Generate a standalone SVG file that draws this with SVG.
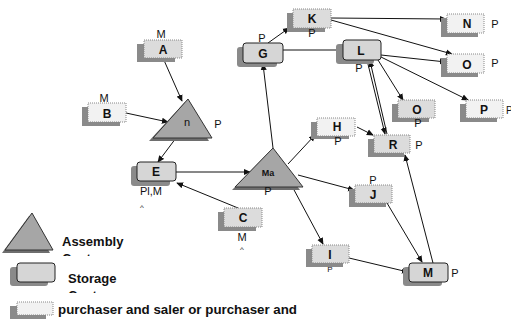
<svg xmlns="http://www.w3.org/2000/svg" width="511" height="326" viewBox="0 0 511 326">
<style>
.sh{fill:#8a8a8a}
.bx{fill:#dcdcdc;stroke:#888;stroke-width:1;stroke-dasharray:1 1}
.bl{fill:#f2f2f2;stroke:#888;stroke-width:1;stroke-dasharray:1 1}
.rb{fill:#d6d6d6;stroke:#222;stroke-width:1}
.tri{fill:#a6a6a6;stroke:#333;stroke-width:1}
.trs{fill:#6e6e6e}
.lb{font-family:"Liberation Sans",Arial,sans-serif;font-weight:bold;font-size:12px;fill:#111;text-anchor:middle}
.sm{font-family:"Liberation Sans",Arial,sans-serif;font-size:11px;fill:#111;text-anchor:middle}
.lg{font-family:"Liberation Sans",Arial,sans-serif;font-weight:bold;font-size:13px;fill:#111}
.cn line{stroke:#111;stroke-width:1;marker-end:url(#ah)}
</style>
<defs>
<marker id="ah" viewBox="0 0 8 8" refX="7" refY="4" markerWidth="7" markerHeight="7" markerUnits="userSpaceOnUse" orient="auto">
<path d="M0,0.5 L8,4 L0,7.5 z" fill="#111"/>
</marker>
<clipPath id="c1"><rect x="0" y="0" width="511" height="256"/></clipPath>
<clipPath id="c2"><rect x="0" y="0" width="511" height="293"/></clipPath>
</defs>

<g id="connectors" class="cn">
<line x1="163" y1="58" x2="182" y2="101"/>
<line x1="126" y1="113" x2="168" y2="122"/>
<line x1="176" y1="138" x2="158" y2="162"/>
<line x1="176" y1="172" x2="250" y2="172"/>
<line x1="238" y1="208" x2="177" y2="183"/>
<line x1="273" y1="148" x2="263" y2="64"/>
<line x1="283" y1="50" x2="342" y2="50"/>
<line x1="268" y1="43" x2="289" y2="28"/>
<line x1="331" y1="18" x2="446" y2="19"/>
<line x1="331" y1="20" x2="452" y2="54"/>
<line x1="381" y1="55" x2="446" y2="62"/>
<line x1="381" y1="57" x2="468" y2="100"/>
<line x1="378" y1="60" x2="403" y2="100"/>
<line x1="367" y1="60" x2="385" y2="134"/>
<line x1="387" y1="134" x2="370" y2="61"/>
<line x1="357" y1="127" x2="373" y2="135"/>
<line x1="288" y1="164" x2="315" y2="135"/>
<line x1="298" y1="175" x2="354" y2="190"/>
<line x1="293" y1="188" x2="323" y2="244"/>
<line x1="349" y1="258" x2="408" y2="272"/>
<line x1="387" y1="203" x2="422" y2="262"/>
<line x1="433" y1="263" x2="405" y2="155"/>
</g>

<g id="A"><rect class="sh" x="137" y="44" width="38" height="18"/><rect class="bx" x="144" y="40" width="38" height="18"/><text class="lb" x="163" y="54">A</text><text class="sm" x="161" y="38">M</text></g>
<g id="B"><rect class="sh" x="82" y="107" width="38" height="19"/><rect class="bl" x="88" y="103" width="38" height="19"/><text class="lb" x="107" y="118">B</text><text class="sm" x="104" y="102">M</text></g>
<g id="D"><polygon class="trs" points="185,102 149,141 209,141"/><polygon class="tri" points="188,99 153,138 212,138"/><text class="sm" x="187" y="126">n</text><text class="sm" x="218" y="128">P</text></g>
<g id="E"><rect class="sh" x="131" y="166" width="39" height="20" rx="3"/><rect class="rb" x="137" y="162" width="39" height="19" rx="3"/><text class="lb" x="156" y="176">E</text><text class="sm" x="151" y="195">Pl,M</text><text class="sm" x="142" y="210" style="font-size:8px">^</text></g>
<g id="C"><rect class="sh" x="218" y="212" width="38" height="19"/><rect class="bx" x="224" y="208" width="38" height="19"/><text class="lb" x="243" y="222">C</text><text class="sm" x="242" y="241">M</text><text class="sm" x="242" y="252" style="font-size:8px">^</text></g>
<g id="Ma"><polygon class="trs" points="270,151 232,190 300,190"/><polygon class="tri" points="273,148 235,187 303,187"/><text class="lb" x="268" y="176" style="font-size:9px">Ma</text><text class="sm" x="268" y="195">P</text></g>
<g id="G"><rect class="sh" x="237" y="47" width="40" height="20" rx="3"/><rect class="rb" x="243" y="43" width="40" height="20" rx="3"/><text class="lb" x="263" y="58">G</text><text class="sm" x="262" y="42">P</text></g>
<g id="K"><rect class="sh" x="287" y="13" width="38" height="19"/><rect class="bx" x="293" y="9" width="38" height="19"/><text class="lb" x="312" y="23">K</text><text class="sm" x="312" y="37">P</text></g>
<g id="L"><rect class="sh" x="336" y="44" width="38" height="20" rx="3"/><rect class="rb" x="343" y="40" width="38" height="20" rx="3"/><text class="lb" x="361" y="55">L</text><text class="sm" x="359" y="72">P</text></g>
<g id="N"><rect class="sh" x="441" y="18" width="37" height="19"/><rect class="bl" x="447" y="14" width="37" height="19"/><text class="lb" x="467" y="28">N</text><text class="sm" x="495" y="28">P</text></g>
<g id="O1"><rect class="sh" x="441" y="58" width="37" height="19"/><rect class="bl" x="447" y="54" width="37" height="19"/><text class="lb" x="467" y="69">O</text><text class="sm" x="495" y="67">P</text></g>
<g id="O2"><rect class="sh" x="392" y="104" width="37" height="18"/><rect class="bx" x="398" y="100" width="37" height="18"/><text class="lb" x="417" y="114">O</text><text class="sm" x="418" y="127">P</text></g>
<g id="P"><rect class="sh" x="460" y="104" width="37" height="18"/><rect class="bl" x="466" y="100" width="37" height="18"/><text class="lb" x="484" y="114">P</text><text class="sm" x="506" y="114" style="text-anchor:start;font-size:10px">P</text></g>
<g id="H"><rect class="sh" x="311" y="122" width="38" height="17"/><rect class="bl" x="317" y="118" width="38" height="18"/><text class="lb" x="337" y="131">H</text><text class="sm" x="338" y="145">P</text></g>
<g id="R"><rect class="sh" x="368" y="139" width="36" height="18"/><rect class="bx" x="374" y="135" width="36" height="18"/><text class="lb" x="393" y="149">R</text><text class="sm" x="419" y="149">P</text></g>
<g id="J"><rect class="sh" x="349" y="189" width="37" height="18"/><rect class="bx" x="355" y="185" width="37" height="18"/><text class="lb" x="373" y="199">J</text><text class="sm" x="373" y="184">P</text></g>
<g id="I"><rect class="sh" x="306" y="249" width="37" height="18"/><rect class="bx" x="312" y="245" width="37" height="18"/><text class="lb" x="330" y="259">I</text><text class="sm" x="330" y="272" style="font-size:8px">P</text></g>
<g id="M"><rect class="sh" x="403" y="267" width="39" height="19" rx="3"/><rect class="rb" x="409" y="263" width="39" height="19" rx="3"/><text class="lb" x="428" y="277">M</text><text class="sm" x="455" y="277">P</text></g>

<g id="legend">
<polygon class="trs" points="29,216 2,253 50,253"/>
<polygon class="tri" points="32,213 5,250 53,250"/>
<text class="lg" x="62" y="246">Assembly</text>
<text class="lg" x="62" y="263" clip-path="url(#c1)">Center</text>
<rect class="sh" x="10" y="267" width="38" height="19" rx="3"/>
<rect class="rb" x="17" y="263" width="38" height="19" rx="3"/>
<text class="lg" x="68" y="283">Storage</text>
<text class="lg" x="68" y="300" clip-path="url(#c2)">Center</text>
<rect class="sh" x="10" y="306" width="36" height="13"/>
<rect class="bl" x="17" y="302" width="36" height="13"/>
<text class="lg" x="58" y="314" textLength="239" lengthAdjust="spacingAndGlyphs">purchaser and saler or purchaser and</text>
<text class="lg" x="58" y="334">consumer</text>
</g>
</svg>
